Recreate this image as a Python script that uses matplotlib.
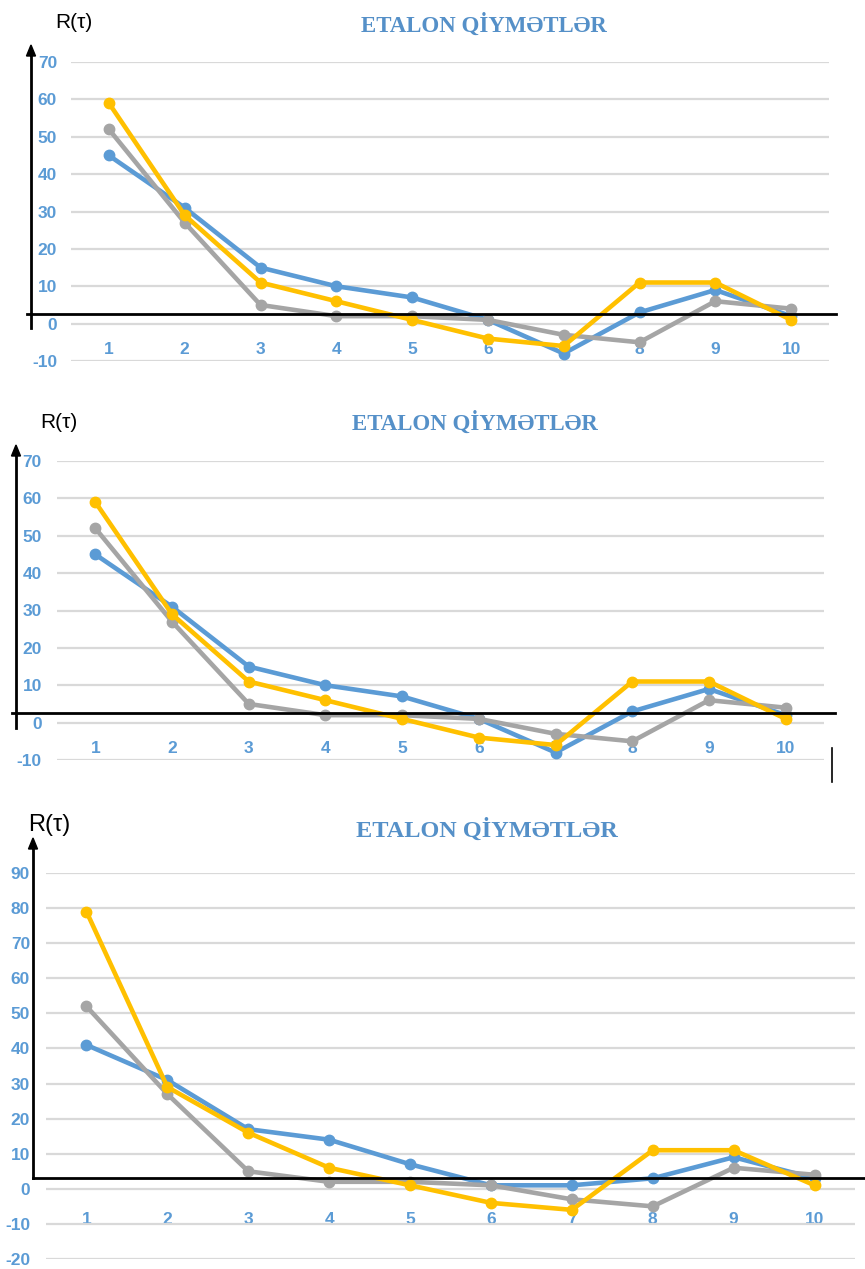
import matplotlib
matplotlib.use("Agg")
import matplotlib.pyplot as plt
from matplotlib.lines import Line2D

plt.rcParams["axes.unicode_minus"] = False

W, H = 865, 1269
DPI = 100

lags = list(range(1, 11))
tick_labels = [str(t) for t in lags]

# Panel 1 and 2 series
blue_a = [45, 31, 15, 10, 7, 1, -8, 3, 9, 2]
gray_a = [52, 27, 5, 2, 2, 1, -3, -5, 6, 4]
yellow_a = [59, 29, 11, 6, 1, -4, -6, 11, 11, 1]

# Panel 3 series
blue_c = [41, 31, 17, 14, 7, 1, 1, 3, 9, 3]
gray_c = [52, 27, 5, 2, 2, 1, -3, -5, 6, 4]
yellow_c = [79, 29, 16, 6, 1, -4, -6, 11, 11, 1]

yticks_ab = [-10, 0, 10, 20, 30, 40, 50, 60, 70]
yticks_c = [-20, -10, 0, 10, 20, 30, 40, 50, 60, 70, 80, 90]

title = "ETALON QİYMƏTLƏR"
ylabel = "R(τ)"

BLUE = "#5B9BD5"
GRAY = "#A5A5A5"
YELLOW = "#FFC000"
GRID = "#D9D9D9"
TXT = "#5B9BD5"
TITLE_C = "#5590C8"

SANS = ["Liberation Sans Narrow", "Liberation Sans", "DejaVu Sans"]
SERIF = ["Liberation Serif", "DejaVu Serif"]

fig = plt.figure(figsize=(W / DPI, H / DPI), dpi=DPI)
fig.patch.set_facecolor("white")


def fx(x):
    return x / W


def fy(y):
    return 1 - y / H


def panel(box, series, yticks, xpad, ypad, tick_fs=12.5):
    left, right, top, bottom = box
    ax = fig.add_axes([fx(left), fy(bottom), fx(right) - fx(left), fy(top) - fy(bottom)])
    ax.set_xlim(0.5, 10.5)
    ax.set_ylim(yticks[0], yticks[-1])
    ax.set_yticks(yticks)
    ax.set_xticks(lags)
    ax.set_xticklabels(tick_labels)
    for s in ["left", "right", "top"]:
        ax.spines[s].set_visible(False)
    ax.spines["bottom"].set_position(("data", 0))
    ax.spines["bottom"].set_visible(False)
    ax.tick_params(axis="both", length=0, colors=TXT, labelsize=tick_fs)
    ax.tick_params(axis="x", pad=xpad)
    ax.tick_params(axis="y", pad=ypad)
    for lab in ax.get_xticklabels() + ax.get_yticklabels():
        lab.set_fontfamily(SANS)
        lab.set_fontweight("bold")
    ax.grid(axis="y", color=GRID, lw=1.6)
    ax.set_axisbelow(True)
    for vals, col in series:
        ax.plot(lags, vals, color=col, lw=3.3, marker="o", ms=7.5,
                solid_capstyle="round", clip_on=False, zorder=3)
    return ax


def arrow_axes(vx, vy0, vy1, hx0, hx1, hy):
    fig.add_artist(Line2D([fx(hx0), fx(hx1)], [fy(hy), fy(hy)], color="black", lw=2.0,
                          transform=fig.transFigure, zorder=10))
    fig.add_artist(Line2D([fx(vx), fx(vx)], [fy(vy0), fy(vy1 + 8)], color="black", lw=2.0,
                          transform=fig.transFigure, zorder=10))
    fig.patches.append(matplotlib.patches.FancyArrow(
        fx(vx), fy(vy1 + 10), 0, fy(vy1) - fy(vy1 + 10), width=0, head_width=fx(9),
        head_length=fy(vy1) - fy(vy1 + 11), length_includes_head=True, color="black",
        transform=fig.transFigure, figure=fig, zorder=10))


# Panel 1
panel((71, 829, 62, 361), [(blue_a, BLUE), (gray_a, GRAY), (yellow_a, YELLOW)],
      yticks_ab, xpad=13, ypad=10)
arrow_axes(31, 328, 45, 27, 836, 314)
fig.text(fx(55), fy(22), ylabel, fontsize=15, family=SANS, va="center", ha="left")
fig.text(fx(484), fy(25), title, fontsize=16.5, family=SERIF, weight="bold",
         color=TITLE_C, va="center", ha="center")

# Panel 2
panel((57, 824, 461, 760), [(blue_a, BLUE), (gray_a, GRAY), (yellow_a, YELLOW)],
      yticks_ab, xpad=13, ypad=10.8)
arrow_axes(16, 728, 445, 12, 835, 713)
fig.add_artist(Line2D([fx(832), fx(832)], [fy(748), fy(782)], color="black", lw=1.2,
                      transform=fig.transFigure))
fig.text(fx(40), fy(422), ylabel, fontsize=15, family=SANS, va="center", ha="left")
fig.text(fx(475), fy(423), title, fontsize=16.5, family=SERIF, weight="bold",
         color=TITLE_C, va="center", ha="center")

# Panel 3
panel((46, 855, 873, 1259), [(blue_c, BLUE), (gray_c, GRAY), (yellow_c, YELLOW)],
      yticks_c, xpad=17, ypad=11.5)
arrow_axes(33, 1178, 838, 33, 865, 1178)
fig.text(fx(28), fy(825), ylabel, fontsize=17, family=SANS, va="center", ha="left")
fig.text(fx(487), fy(830), title, fontsize=17.5, family=SERIF, weight="bold",
         color=TITLE_C, va="center", ha="center")

fig.savefig("out.png", dpi=DPI, facecolor="white")
